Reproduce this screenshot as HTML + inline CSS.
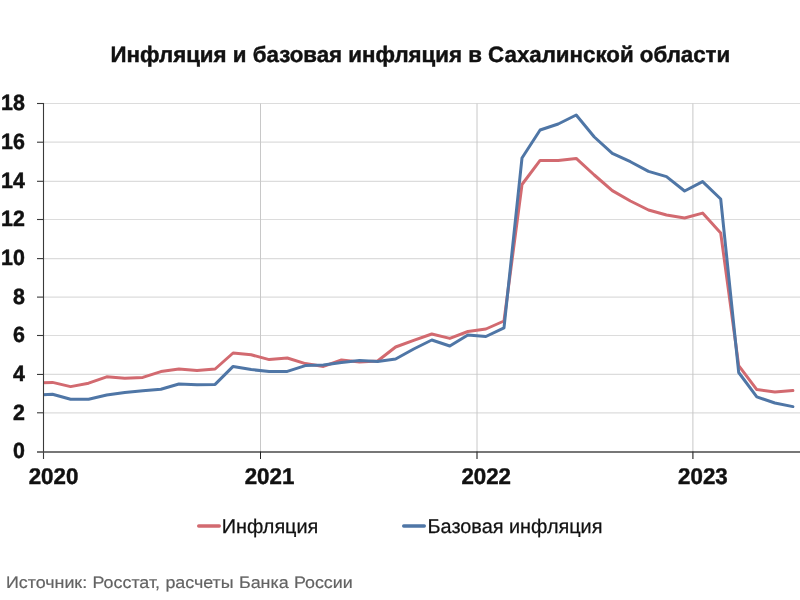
<!DOCTYPE html>
<html><head><meta charset="utf-8">
<style>
html,body{margin:0;padding:0;background:#fff;}
body{width:800px;height:600px;overflow:hidden;position:relative;font-family:"Liberation Sans",sans-serif;}
svg{position:absolute;left:0;top:0;}
text{font-family:"Liberation Sans",sans-serif;text-rendering:geometricPrecision;}
svg{will-change:transform;opacity:0.999;}
</style></head><body>
<svg width="800" height="600" viewBox="0 0 800 600">
<rect width="800" height="600" fill="#fff"/>
<defs><clipPath id="plot"><rect x="43.5" y="95" width="760" height="357"/></clipPath></defs>
<!-- gridlines -->
<g stroke="#dcdcdc" stroke-width="1.2" fill="none">
<line x1="44" x2="800" y1="103.5" y2="103.5"/>
<line x1="44" x2="800" y1="142.2" y2="142.2"/>
<line x1="44" x2="800" y1="181.3" y2="181.3"/>
<line x1="44" x2="800" y1="219.5" y2="219.5"/>
<line x1="44" x2="800" y1="258.6" y2="258.6"/>
<line x1="44" x2="800" y1="297.1" y2="297.1"/>
<line x1="44" x2="800" y1="335.5" y2="335.5"/>
<line x1="44" x2="800" y1="374.45" y2="374.45"/>
<line x1="44" x2="800" y1="412.8" y2="412.8"/>
<line x1="260.5" x2="260.5" y1="103.5" y2="451.5" stroke="#c8c8c8" stroke-width="1"/>
<line x1="477.0" x2="477.0" y1="103.5" y2="451.5" stroke="#c8c8c8" stroke-width="1"/>
<line x1="692.9" x2="692.9" y1="103.5" y2="451.5" stroke="#c8c8c8" stroke-width="1"/>
</g>
<!-- data -->
<g clip-path="url(#plot)" fill="none" stroke-width="3.0" stroke-linejoin="round" stroke-linecap="round">
<path d="M34.5,383.2 L52.5,382.4 L70.6,386.6 L88.6,383.2 L106.7,376.8 L124.8,378.2 L142.8,377.4 L160.9,371.6 L178.9,369.0 L197.0,370.6 L215.1,369.0 L233.1,353.0 L251.2,354.8 L269.2,359.6 L287.3,358.0 L305.3,363.6 L323.4,366.4 L341.5,360.0 L359.5,362.0 L377.6,361.0 L395.6,347.0 L413.7,340.4 L431.8,334.0 L449.8,338.4 L467.9,331.5 L485.9,329.0 L504.0,321.0 L522.0,184.5 L540.1,160.4 L558.2,160.4 L576.2,158.4 L594.3,175.0 L612.3,190.6 L630.4,201.0 L648.5,210.0 L666.5,215.0 L684.6,218.0 L702.6,213.1 L720.7,233.0 L738.7,365.6 L756.8,389.6 L774.9,392.0 L792.9,390.6" stroke="#d26a70"/>
<path d="M34.5,395.4 L52.5,394.2 L70.6,399.2 L88.6,399.2 L106.7,395.0 L124.8,392.4 L142.8,390.8 L160.9,389.2 L178.9,384.0 L197.0,384.8 L215.1,384.4 L233.1,366.4 L251.2,369.6 L269.2,371.4 L287.3,371.4 L305.3,365.6 L323.4,365.0 L341.5,362.4 L359.5,360.4 L377.6,361.6 L395.6,359.0 L413.7,349.0 L431.8,340.0 L449.8,346.0 L467.9,335.0 L485.9,336.5 L504.0,327.8 L522.0,158.0 L540.1,130.0 L558.2,124.0 L576.2,115.0 L594.3,137.0 L612.3,153.4 L630.4,161.7 L648.5,171.4 L666.5,176.6 L684.6,191.0 L702.6,181.6 L720.7,199.0 L738.7,372.5 L756.8,396.9 L774.9,403.0 L792.9,406.6" stroke="#4f76a6"/>
</g>
<!-- axes -->
<g stroke="#3a3a3a" stroke-width="1.1" fill="none">
<line x1="43.5" x2="43.5" y1="103" y2="459"/>
<line x1="37" x2="800" y1="452" y2="452" stroke-width="1.6" stroke="#4a4a4a"/>
<line x1="37" x2="44" y1="103.5" y2="103.5"/>
<line x1="37" x2="44" y1="142.2" y2="142.2"/>
<line x1="37" x2="44" y1="181.3" y2="181.3"/>
<line x1="37" x2="44" y1="219.5" y2="219.5"/>
<line x1="37" x2="44" y1="258.6" y2="258.6"/>
<line x1="37" x2="44" y1="297.1" y2="297.1"/>
<line x1="37" x2="44" y1="335.5" y2="335.5"/>
<line x1="37" x2="44" y1="374.45" y2="374.45"/>
<line x1="37" x2="44" y1="412.8" y2="412.8"/>
<line x1="260.5" x2="260.5" y1="451.5" y2="459" stroke-width="1" stroke="#222"/>
<line x1="477.0" x2="477.0" y1="451.5" y2="459" stroke-width="1.2" stroke="#333"/>
<line x1="692.9" x2="692.9" y1="451.5" y2="459" stroke-width="1.2" stroke="#333"/>
</g>
<!-- y labels -->
<g font-size="21.4" font-weight="bold" fill="#111" stroke="#111" stroke-width="0.45" text-anchor="end">
<text transform="translate(24.9,110.2) scale(1,1.03)">18</text>
<text transform="translate(24.9,148.9) scale(1,1.03)">16</text>
<text transform="translate(24.9,187.5) scale(1,1.03)">14</text>
<text transform="translate(24.9,226.2) scale(1,1.03)">12</text>
<text transform="translate(24.9,264.9) scale(1,1.03)">10</text>
<text transform="translate(24.9,303.5) scale(1,1.03)">8</text>
<text transform="translate(24.9,342.2) scale(1,1.03)">6</text>
<text transform="translate(24.9,380.9) scale(1,1.03)">4</text>
<text transform="translate(24.9,419.5) scale(1,1.03)">2</text>
<text transform="translate(24.9,458.2) scale(1,1.03)">0</text>
</g>
<!-- x labels -->
<g font-size="22.3" font-weight="bold" fill="#111" stroke="#111" stroke-width="0.45" text-anchor="middle">
<text transform="translate(53.5,484.3) scale(1,1.02)">2020</text>
<text transform="translate(269.5,484.3) scale(1,1.02)">2021</text>
<text transform="translate(486.2,484.3) scale(1,1.02)">2022</text>
<text transform="translate(702.9,484.3) scale(1,1.02)">2023</text>
</g>
<!-- title -->
<text transform="translate(420.4,62) scale(1,1.00)" font-size="22.3" font-weight="bold" fill="#111" stroke="#111" stroke-width="0.45" text-anchor="middle">Инфляция и базовая инфляция в Сахалинской области</text>
<!-- legend -->
<line x1="198.7" x2="219.3" y1="526" y2="526" stroke="#d26a70" stroke-width="3.4" stroke-linecap="round"/>
<text x="221.7" y="533" font-size="19.85" fill="#111" stroke="#111" stroke-width="0.25">Инфляция</text>
<line x1="403.7" x2="424.3" y1="526" y2="526" stroke="#4f76a6" stroke-width="3.4" stroke-linecap="round"/>
<text x="427.6" y="533" font-size="19.85" fill="#111" stroke="#111" stroke-width="0.25">Базовая инфляция</text>
<!-- source -->
<text transform="translate(6,587.9) scale(1,0.93)" font-size="17.85" fill="#636363" stroke="#636363" stroke-width="0.2" word-spacing="0.4">Источник: Росстат, расчеты Банка России</text>
</svg>
</body></html>
